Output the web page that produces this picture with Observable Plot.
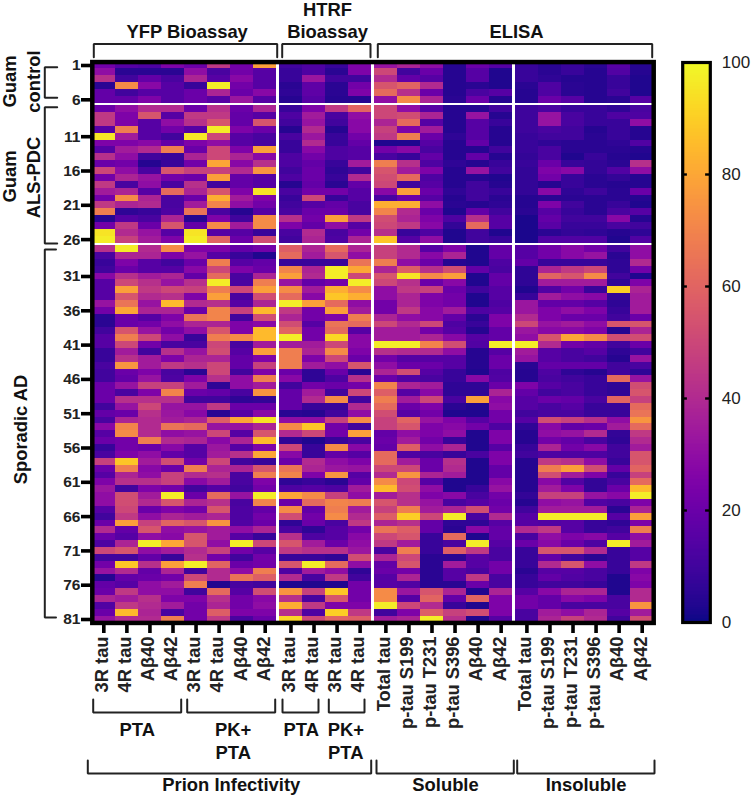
<!DOCTYPE html>
<html><head><meta charset="utf-8">
<script src="https://cdn.jsdelivr.net/npm/d3@7"></script>
<script src="https://cdn.jsdelivr.net/npm/@observablehq/plot@0.6"></script>
<style>
html,body{margin:0;padding:0;background:#fff}
#wrap{position:relative;width:752px;height:797px;overflow:hidden}
#wrap svg{position:absolute;left:0;top:0;display:block;background:transparent}
</style></head><body><div id="wrap"></div>
<script>
const columnLabels = ["3R tau","4R tau","Aβ40","Aβ42","3R tau","4R tau","Aβ40","Aβ42","3R tau","4R tau","3R tau","4R tau","Total tau","p-tau S199","p-tau T231","p-tau S396","Aβ40","Aβ42","Total tau","p-tau S199","p-tau T231","p-tau S396","Aβ40","Aβ42"];
const rowTicks = [1,6,11,16,21,26,31,36,41,46,51,56,61,66,71,76,81];
const colorTicks = [0,20,40,60,80,100];

const guamControl = [
[22,15,13,25,20,45,22,78,10,13,8,25,32,38,30,4,20,15,8,5,8,5,15,4],
[30,5,5,5,30,12,22,15,8,13,5,25,50,10,20,4,15,3,8,5,8,4,14,4],
[42,10,18,12,38,15,28,15,8,33,10,10,40,18,15,4,15,3,8,6,4,4,8,3],
[5,72,28,15,8,97,22,15,5,17,5,22,55,60,40,4,5,3,5,13,5,4,8,3],
[18,10,15,15,20,38,20,28,6,17,5,25,62,42,20,4,12,15,4,13,5,4,10,3],
[18,18,25,15,20,15,33,15,4,15,4,4,30,72,38,5,20,4,4,20,15,4,5,15]];

const guamALSPDC = [
[20,30,40,40,20,42,20,38,8,25,45,60,50,30,15,4,4,10,9,12,8,8,6,12],
[45,25,55,15,45,45,18,15,13,35,12,30,50,52,38,4,32,4,9,32,12,8,13,13],
[45,25,15,30,42,55,18,55,10,32,10,28,38,62,15,4,15,8,9,32,12,8,8,30],
[15,68,15,22,15,97,25,20,4,40,4,28,48,25,35,4,15,4,9,12,10,4,8,4],
[96,35,15,10,96,50,15,12,12,33,8,22,45,68,20,6,15,4,8,10,10,5,8,4],
[25,25,28,18,25,30,15,12,8,40,8,18,3,3,15,4,18,4,8,6,5,5,6,14],
[15,35,40,68,20,50,25,78,8,28,13,15,22,28,12,4,4,10,8,12,5,5,5,4],
[42,30,10,8,38,50,38,28,13,22,13,15,12,8,18,4,18,4,7,12,3,8,4,3],
[20,22,4,8,22,80,28,42,13,18,8,35,68,42,13,6,4,8,8,20,8,7,5,42],
[50,30,12,55,48,48,40,75,10,20,6,10,55,35,25,4,32,10,7,25,28,7,14,30],
[22,38,32,22,20,78,18,15,13,20,8,40,52,62,13,4,4,3,7,22,8,5,7,4],
[45,12,30,12,42,10,18,15,4,18,5,18,50,10,15,4,10,4,7,4,8,5,4,4],
[35,38,15,62,38,55,25,95,12,22,22,15,28,78,20,6,10,8,7,28,6,9,5,20],
[22,72,38,12,20,82,35,25,8,50,8,15,12,20,15,4,10,5,4,5,5,5,5,4],
[45,38,40,12,35,70,30,22,10,15,18,12,82,82,30,5,4,6,4,25,10,5,8,3],
[68,6,8,13,65,12,4,15,12,20,20,12,70,40,20,3,18,10,5,15,8,5,12,15],
[4,15,12,38,4,25,10,72,42,22,78,45,52,38,25,13,42,15,2,18,10,10,28,4],
[22,45,20,55,18,72,35,72,25,18,30,15,50,45,28,7,62,15,2,16,8,8,12,10],
[95,40,32,15,95,15,15,8,12,40,12,22,42,8,13,3,10,3,2,5,7,6,4,6],
[97,48,35,25,97,60,20,52,10,38,13,38,88,15,30,3,10,8,2,14,14,14,3,14]];

const sporadicAD = [
[42,97,40,72,25,25,18,22,58,38,62,38,48,40,15,25,3,18,15,22,28,22,10,30],
[12,38,38,25,32,15,8,3,62,35,55,30,48,40,28,38,3,18,15,22,28,32,5,30],
[8,25,15,10,20,68,15,18,8,8,8,65,68,30,20,4,3,13,18,8,8,8,6,40],
[10,20,15,15,28,50,25,20,70,38,97,80,38,58,42,52,18,12,6,38,45,50,6,22],
[28,42,35,38,18,62,12,38,78,40,97,50,55,95,72,78,3,18,6,60,55,72,10,3],
[15,50,42,32,42,97,12,68,32,18,22,97,50,42,20,28,3,18,6,35,35,35,6,25],
[15,78,45,50,48,68,50,78,72,35,82,72,30,45,48,20,10,15,3,14,22,8,90,38],
[15,55,40,42,25,78,12,52,62,28,88,82,30,38,25,22,3,15,8,35,30,28,7,35],
[32,65,32,85,40,42,15,38,97,78,62,30,22,38,25,22,3,13,33,18,18,15,6,35],
[22,80,38,38,20,70,48,85,45,22,78,35,22,45,28,35,13,15,33,25,30,25,8,35],
[5,20,15,25,65,70,10,52,38,22,25,68,38,30,28,18,5,25,40,25,20,20,10,20],
[5,20,22,30,38,38,25,28,52,15,65,62,50,40,50,13,8,25,50,32,35,30,55,55],
[10,55,32,22,30,55,25,85,60,22,62,15,35,35,22,15,4,18,33,28,28,25,4,38],
[15,68,50,30,8,68,72,85,97,22,92,28,35,35,38,28,15,18,30,55,80,72,52,52],
[15,50,22,12,12,50,12,35,35,35,50,28,97,97,70,52,14,97,97,40,22,18,10,20],
[8,35,10,42,32,52,15,78,68,38,72,25,42,40,40,30,4,15,35,15,12,15,6,10],
[8,42,35,25,38,38,18,25,68,25,50,20,22,15,15,15,4,20,32,15,12,10,4,32],
[12,75,35,45,42,50,18,48,68,35,30,55,30,20,20,15,4,20,5,18,18,18,10,12],
[10,20,25,12,5,50,10,25,20,6,20,5,38,52,15,8,3,13,4,13,6,4,10,6],
[10,18,32,13,25,42,30,68,28,6,13,42,20,14,12,8,28,14,4,12,10,8,62,32],
[20,32,48,48,35,6,30,35,10,22,20,22,70,38,35,6,6,20,25,15,12,8,6,52],
[20,12,25,70,20,18,12,75,18,35,10,50,58,15,28,6,6,38,18,10,12,8,6,55],
[20,42,42,42,10,10,6,7,18,40,72,10,68,35,50,12,78,28,15,20,18,12,60,48],
[10,32,50,32,32,45,20,20,18,8,8,40,62,20,25,5,3,30,15,12,15,8,8,62],
[18,20,42,33,28,5,15,28,5,4,10,30,52,15,22,3,3,22,10,12,12,8,8,65],
[12,38,40,35,38,58,80,95,30,30,48,72,48,60,32,25,15,22,15,52,48,42,30,75],
[28,70,40,65,62,32,32,38,72,88,22,10,48,55,25,28,22,13,6,28,18,20,35,62],
[15,72,40,30,32,50,15,55,40,50,22,78,18,30,25,30,3,25,4,30,32,40,7,45],
[20,22,68,40,38,28,38,85,6,3,8,12,20,35,22,8,3,25,4,22,18,12,6,40],
[8,22,20,28,15,33,15,25,50,8,72,28,18,58,30,38,3,15,8,38,22,28,10,35],
[12,25,30,18,15,35,42,80,28,8,18,15,62,13,12,8,12,25,10,13,13,13,10,55],
[48,88,35,52,22,50,10,8,20,40,30,25,62,35,20,42,3,25,4,45,42,30,8,55],
[20,68,28,20,68,38,38,55,65,38,33,32,50,50,20,40,3,18,4,68,78,52,18,60],
[15,38,30,48,40,42,12,68,70,25,75,15,40,75,38,35,3,18,4,52,35,25,8,48],
[25,42,42,48,28,35,12,25,6,8,5,18,72,50,15,3,3,28,4,28,14,7,12,62],
[33,10,25,22,10,15,10,22,13,15,13,35,85,52,30,3,8,32,4,35,25,7,20,85],
[30,52,35,97,20,62,32,97,80,72,48,30,35,42,25,28,12,22,7,48,48,32,28,97],
[30,52,40,55,38,42,12,70,20,62,70,68,55,42,32,12,15,20,4,30,32,14,12,25],
[15,50,20,25,22,55,13,18,72,18,68,35,48,68,35,38,52,22,10,35,35,35,5,38],
[10,45,30,38,35,38,13,22,52,22,72,40,58,90,50,97,12,40,15,97,97,97,15,78],
[20,78,48,60,55,75,14,20,6,20,12,45,38,42,18,6,6,15,15,14,15,8,6,25],
[40,18,55,30,32,35,30,38,12,6,15,22,65,58,18,5,28,18,40,45,15,8,10,68],
[20,15,30,28,55,35,15,8,42,13,15,28,50,55,8,62,3,18,12,30,25,28,15,30],
[13,38,97,80,55,30,97,50,55,35,20,30,45,35,8,12,97,15,20,28,20,13,97,35],
[50,55,30,35,40,48,22,15,45,42,42,33,12,68,8,58,45,12,8,55,55,40,8,15],
[10,10,18,8,42,22,10,22,8,8,6,52,38,50,5,5,15,12,8,18,10,5,8,15],
[22,88,42,78,97,60,20,22,55,97,62,30,18,55,5,35,15,22,8,40,55,30,8,45],
[32,40,18,38,10,40,30,68,13,35,30,6,20,22,5,15,12,22,5,15,15,12,8,25],
[4,18,20,22,50,40,65,58,40,12,45,10,15,38,5,15,45,12,8,18,14,12,3,28],
[18,15,30,35,68,3,12,10,3,3,3,22,15,14,5,5,20,12,8,10,10,8,3,25],
[20,45,30,30,10,62,15,52,75,48,88,22,72,33,55,38,3,38,15,28,38,38,3,40],
[38,35,42,25,25,42,22,28,42,12,55,22,72,15,60,18,60,25,22,18,28,25,12,40],
[14,45,40,35,22,38,22,30,82,45,25,25,97,50,40,8,3,25,22,18,12,12,12,75],
[20,85,38,12,22,58,25,25,42,13,90,45,10,25,58,48,52,25,12,35,30,38,15,35],
[32,40,40,68,22,45,12,20,92,50,60,58,35,38,97,42,3,15,12,38,48,40,10,52]];

const values = [...guamControl, ...guamALSPDC, ...sporadicAD];

// band layout with thin gaps between the groups of rows and of columns
const rowGap = 2.6 / 6.86, colGap = 2.7 / 23.05;
const rowPos = r => r + rowGap * ((r > 6) + (r > 26));
const colPos = c => c + colGap * ((c > 8) + (c > 12) + (c > 18));
const colCenter = c => colPos(c) - 0.5;

const cells = values.flatMap((row, i) => row.map((v, j) => ({row: i + 1, col: j + 1, v})));

const frameL = 91.8, frameR = 653.2, frameT = 61.57, frameB = 622.43;
const xDomain = [0, colPos(24)], yDomain = [0.5, rowPos(81) + 0.5];
// annotation helpers: frame-relative placing of brackets and captions
const xAt = px => xDomain[0] + (px - frameL) / (frameR - frameL) * (xDomain[1] - xDomain[0]);
const yAt = px => yDomain[0] + (px - frameT) / (frameB - frameT) * (yDomain[1] - yDomain[0]);

const hBracket = (x1, x2, yLeg, yBar) => [[x1, yLeg], [x1, yBar], [x2, yBar], [x2, yLeg]].map(([a, b]) => ({x: xAt(a), y: yAt(b)}));
const vBracket = (y1, y2, xLeg, xBar) => [[xLeg, y1], [xBar, y1], [xBar, y2], [xLeg, y2]].map(([a, b]) => ({x: xAt(a), y: yAt(b)}));
const brackets = [
  hBracket(93.3, 276.7, 56.7, 43.5), hBracket(281.7, 370, 56.7, 43.5), hBracket(377.3, 651.7, 56.7, 43.5),
  vBracket(66.7, 97.3, 56.7, 44.3), vBracket(106.7, 243, 56.7, 44.3), vBracket(249, 617, 55.5, 44.3),
  hBracket(92.7, 180.7, 699, 712), hBracket(186.7, 274.7, 699, 712), hBracket(282, 318, 699, 712), hBracket(328.3, 364, 699, 712),
  hBracket(87.3, 370.7, 760, 773), hBracket(376, 513.3, 760, 773), hBracket(516.7, 654, 760, 773)
];
const captions = [
  ["YFP Bioassay", 186.7, 32], ["HTRF", 327, 9.5], ["Bioassay", 327, 32], ["ELISA", 516, 32],
  ["PTA", 136.7, 730], ["PK+", 232.7, 730], ["PTA", 232.7, 752.7], ["PTA", 300.7, 730], ["PK+", 345.3, 730], ["PTA", 345.3, 752.7],
  ["Prion Infectivity", 230.8, 785], ["Soluble", 445, 785], ["Insoluble", 585.5, 785]
].map(([t, a, b]) => ({t, x: xAt(a), y: yAt(b)}));
const sideCaptions = [
  ["Guam", 10, 81], ["control", 33.5, 81], ["Guam", 10, 176], ["ALS-PDC", 33.5, 177], ["Sporadic AD", 20.5, 429]
].map(([t, a, b]) => ({t, x: xAt(a), y: yAt(b)}));

const main = Plot.plot({
  width: 752, height: 797,
  marginLeft: frameL, marginRight: 752 - frameR, marginTop: frameT, marginBottom: 797 - frameB,
  style: {background: "transparent", fontFamily: "'Liberation Sans', Arial, sans-serif"},
  x: {type: "linear", domain: xDomain, axis: null},
  y: {type: "linear", domain: yDomain, reverse: true, axis: null},
  color: {type: "linear", scheme: "plasma", domain: [0, 100]},
  marks: [
    Plot.rect(cells, {
      x1: d => colPos(d.col) - 1, x2: d => colPos(d.col),
      y1: d => rowPos(d.row) - 0.5, y2: d => rowPos(d.row) + 0.5,
      fill: "v", shapeRendering: "crispEdges"
    }),
    Plot.frame({stroke: "#000", strokeWidth: 4.5}),
    // row axis
    Plot.ruleY(rowTicks, {y: d => rowPos(d), x1: xAt(81), x2: xAt(91), stroke: "#000", strokeWidth: 3.6}),
    Plot.text(rowTicks, {y: d => rowPos(d), text: d => String(d), x: xAt(80), textAnchor: "end", fontSize: 15.5, fontWeight: "bold", fill: "#222"}),
    // column axis
    Plot.ruleX(d3.range(1, 25), {x: colCenter, y1: yAt(622), y2: yAt(633), stroke: "#000", strokeWidth: 3.6}),
    Plot.text(columnLabels, {
      x: (d, i) => colCenter(i + 1), y: yAt(636), text: d => d, rotate: -90, textAnchor: "end", lineAnchor: "middle", dx: -1.5,
      fontSize: 18.3, fontWeight: "bold", fill: "#222"
    }),
    // brackets and group captions
    ...brackets.map(b => Plot.line(b, {x: "x", y: "y", stroke: "#222", strokeWidth: 2, strokeLinejoin: "miter", curve: "linear"})),
    Plot.text(captions, {x: "x", y: "y", text: "t", fontSize: 18.4, fontWeight: "bold", fill: "#111", lineAnchor: "middle"}),
    Plot.text(sideCaptions, {x: "x", y: "y", text: "t", rotate: -90, fontSize: 18.4, fontWeight: "bold", fill: "#111", lineAnchor: "middle"})
  ]
});
document.getElementById("wrap").appendChild(main);

// colour bar
const barLeft = 682.2, barRight = 709.8;
const barStops = d3.range(0, 100, 0.25);
const bar = Plot.plot({
  width: 752, height: 797,
  marginLeft: barLeft, marginRight: 752 - barRight, marginTop: 62, marginBottom: 797 - 622,
  style: {background: "transparent", fontFamily: "'Liberation Sans', Arial, sans-serif"},
  x: {type: "linear", domain: [0, 1], axis: null},
  y: {type: "linear", domain: [0, 100], axis: null},
  color: {type: "linear", scheme: "plasma", domain: [0, 100]},
  marks: [
    Plot.rect(barStops, {x1: 0, x2: 1, y1: d => d, y2: d => d + 0.4, fill: d => d + 0.125, shapeRendering: "crispEdges"}),
    Plot.frame({stroke: "#000", strokeWidth: 3.2}),
    Plot.ruleY([20, 40, 60, 80], {x1: 0, x2: 0.17, stroke: "#000", strokeWidth: 2.4}),
    Plot.ruleY([20, 40, 60, 80], {x1: 0.83, x2: 1, stroke: "#000", strokeWidth: 2.4}),
    Plot.text(colorTicks, {y: d => d, x: 1, dx: 11.5, text: d => String(d), textAnchor: "start", fontSize: 17, fill: "#222"})
  ]
});
document.getElementById("wrap").appendChild(bar);
</script></body></html>
